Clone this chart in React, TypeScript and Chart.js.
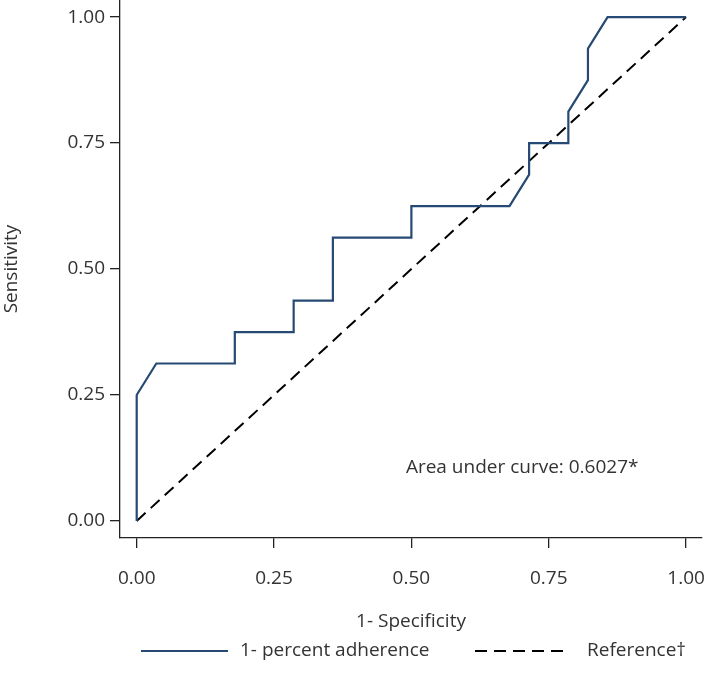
import React, { useEffect, useRef } from "react";
import { Chart, registerables } from "chart.js";

Chart.register(...registerables);

// ROC curve: 1 - specificity (x) vs sensitivity (y)
const rocFpr = [0, 0, 0.0357, 0.1786, 0.1786, 0.2857, 0.2857, 0.3571, 0.3571, 0.5, 0.5, 0.6786, 0.7143, 0.7143, 0.7857, 0.7857, 0.8214, 0.8214, 0.8571, 1];
const rocTpr = [0, 0.25, 0.3125, 0.3125, 0.375, 0.375, 0.4375, 0.4375, 0.5625, 0.5625, 0.625, 0.625, 0.6875, 0.75, 0.75, 0.8125, 0.875, 0.9375, 1, 1];
const refX = [0, 1];
const refY = [0, 1];
const tickValues = [0, 0.25, 0.5, 0.75, 1];
const seriesNames = ["1- percent adherence", "Reference\u2020"];
const xTitle = "1- Specificity";
const yTitle = "Sensitivity";
const aucText = "Area under curve: 0.6027*";
const aucPos = { x: 0.49, y: 0.105 };

const FONT = "'Open Sans', 'Noto Sans', sans-serif";
const TEXT = "#333333";
const AXIS = "#222222";
const BLUE = "#264a73";
const DASH = [12, 7];

export default function App() {
  const ref = useRef<HTMLCanvasElement | null>(null);

  useEffect(() => {
    if (!ref.current) return;

    const annotationPlugin = {
      id: "aucAndLegend",
      afterDraw(chart: any) {
        const { ctx } = chart;
        const xs = chart.scales.x;
        const ys = chart.scales.y;
        ctx.save();
        ctx.font = `19px ${FONT}`;
        ctx.fillStyle = TEXT;
        ctx.textBaseline = "middle";
        ctx.textAlign = "left";
        ctx.fillText(aucText, xs.getPixelForValue(aucPos.x), ys.getPixelForValue(aucPos.y));

        // legend
        const ly = 651;
        ctx.lineWidth = 2;
        ctx.strokeStyle = BLUE;
        ctx.setLineDash([]);
        ctx.beginPath();
        ctx.moveTo(141, ly);
        ctx.lineTo(228, ly);
        ctx.stroke();
        ctx.fillText(seriesNames[0], 240, ly);

        ctx.strokeStyle = "#000000";
        ctx.setLineDash(DASH);
        ctx.beginPath();
        ctx.moveTo(475, ly);
        ctx.lineTo(566, ly);
        ctx.stroke();
        ctx.setLineDash([]);
        ctx.fillText(seriesNames[1], 587, ly);
        ctx.restore();
      },
    };

    const zeroPad = (scale: any) => {
      scale.paddingTop = 0;
      scale.paddingBottom = 0;
      scale.paddingLeft = 0;
      scale.paddingRight = 0;
    };

    const axisCommon = (title: string, isX: boolean) => ({
      type: "linear" as const,
      afterBuildTicks: (scale: any) => {
        scale.ticks = tickValues.map((v) => ({ value: v }));
      },
      ticks: {
        callback: (v: any) => Number(v).toFixed(2),
        font: { family: FONT, size: 19 },
        color: TEXT,
        padding: isX ? 19 : 5,
        maxRotation: 0,
        autoSkip: false,
      },
      grid: {
        display: true,
        drawOnChartArea: false,
        drawTicks: true,
        tickLength: 10,
        color: AXIS,
        lineWidth: 1.3,
      },
      border: { display: true, color: AXIS, width: 1.3 },
      title: {
        display: true,
        text: title,
        font: { family: FONT, size: 19 },
        color: TEXT,
        padding: isX ? { top: 0, bottom: 54 } : { top: 0, bottom: 0 },
      },
    });

    const chart = new Chart(ref.current, {
      type: "scatter",
      data: {
        datasets: [
          {
            label: seriesNames[0],
            data: rocFpr.map((x, i) => ({ x, y: rocTpr[i] })),
            showLine: true,
            borderColor: BLUE,
            borderWidth: 2.2,
            pointRadius: 0,
            tension: 0,
            clip: false as any,
          },
          {
            label: seriesNames[1],
            data: refX.map((x, i) => ({ x, y: refY[i] })),
            showLine: true,
            borderColor: "#000000",
            borderWidth: 2,
            borderDash: DASH,
            pointRadius: 0,
            tension: 0,
            clip: false as any,
          },
        ],
      },
      options: {
        animation: false,
        responsive: false,
        maintainAspectRatio: false,
        layout: { padding: { left: 0, top: 0, right: 7, bottom: 0 } },
        plugins: {
          legend: { display: false },
          tooltip: { enabled: false },
        },
        scales: {
          x: {
            ...axisCommon(xTitle, true),
            min: -0.0304,
            max: 1.029,
            afterFit: (scale: any) => {
              scale.height = 149;
              zeroPad(scale);
            },
          },
          y: {
            ...axisCommon(yTitle, false),
            min: -0.0338,
            max: 1.034,
            afterFit: (scale: any) => {
              scale.width = 120;
              zeroPad(scale);
            },
          },
        },
      },
      plugins: [annotationPlugin],
    });

    return () => chart.destroy();
  }, []);

  return (
    <div style={{ position: "absolute", left: 0, top: 0, width: 709, height: 687, background: "#fff" }}>
      <canvas ref={ref} width={709} height={687} />
    </div>
  );
}
